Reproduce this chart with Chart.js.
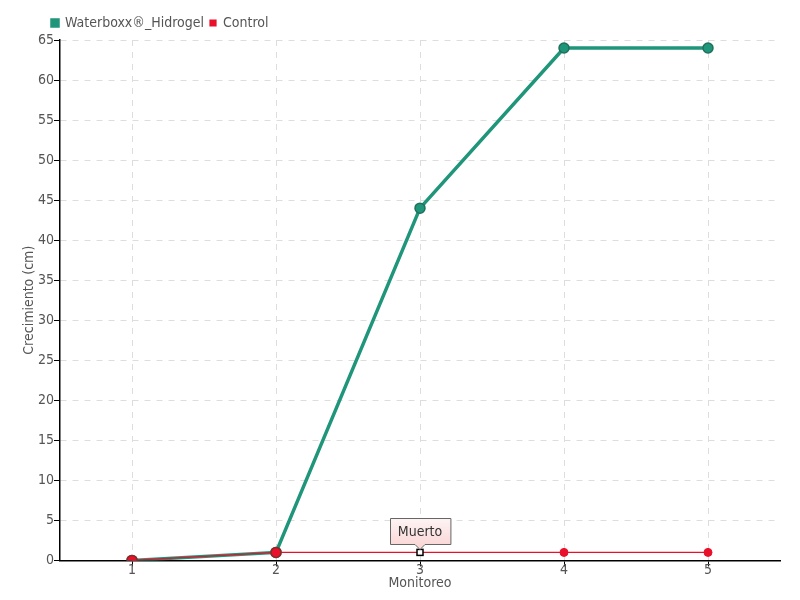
<!DOCTYPE html>
<html><head><meta charset="utf-8">
<script src="https://cdn.jsdelivr.net/npm/chart.js@4/dist/chart.umd.min.js"></script>
<style>html,body{margin:0;padding:0;background:#fff}#w{width:800px;height:600px}</style>
</head><body><div id="w"><canvas id="c" width="800" height="600"></canvas></div>
<script>
const categories = ['1','2','3','4','5'];
const waterboxx = [0, 1, 44, 64, 64];
const control = [0, 1, 1, 1, 1];
const seriesNames = ['Waterboxx®_Hidrogel', 'Control'];
const deadLabel = 'Muerto';
const deadIndex = 2;

const FONT = '"DejaVu Sans Condensed", "Liberation Sans Narrow", sans-serif';

const deadPlugin = {
  id: 'dead',
  afterLayout(chart) {
    const lg = chart.legend;
    if (lg) { lg.left += 46; lg.right += 46; }
  },
  afterDatasetsDraw(chart) {
    const ctx = chart.ctx;
    const meta = chart.getDatasetMeta(1);
    const pt = meta.data[deadIndex];
    const x = pt.x, y = pt.y;
    ctx.save();
    ctx.fillStyle = '#fff';
    ctx.strokeStyle = '#000';
    ctx.lineWidth = 1.5;
    ctx.fillRect(x - 3, y - 3, 6, 6);
    ctx.strokeRect(x - 3, y - 3, 6, 6);
    ctx.font = '14px ' + FONT;
    const tw = ctx.measureText(deadLabel).width;
    const w = tw + 16, h = 26;
    const bx = Math.round(x - w / 2) + 0.5, by = Math.round(y - 8 - h) + 0.5;
    const g = ctx.createLinearGradient(0, by, 0, by + h);
    g.addColorStop(0, '#fdf4f4');
    g.addColorStop(1, '#fbd8d8');
    ctx.beginPath();
    ctx.moveTo(bx, by);
    ctx.lineTo(bx + w, by);
    ctx.lineTo(bx + w, by + h);
    ctx.lineTo(x + 5, by + h);
    ctx.lineTo(x, by + h + 5);
    ctx.lineTo(x - 5, by + h);
    ctx.lineTo(bx, by + h);
    ctx.closePath();
    ctx.fillStyle = g;
    ctx.fill();
    ctx.strokeStyle = '#666';
    ctx.lineWidth = 1;
    ctx.stroke();
    ctx.fillStyle = '#333';
    ctx.textAlign = 'center';
    ctx.textBaseline = 'middle';
    ctx.fillText(deadLabel, x, by + h / 2 + 1);
    ctx.restore();
  }
};

new Chart(document.getElementById('c'), {
  type: 'line',
  data: {
    labels: categories,
    datasets: [
      {
        label: seriesNames[0], data: waterboxx,
        borderColor: '#1f957a', backgroundColor: '#1f957a',
        borderWidth: 3.5, pointRadius: 5, pointBorderColor: '#21705c', pointBorderWidth: 1.5,
        pointBackgroundColor: '#1f957a', tension: 0, order: 2
      },
      {
        label: seriesNames[1], data: control,
        borderColor: '#e8102a', backgroundColor: '#e8102a',
        borderWidth: 1.2,
        pointRadius: [5, 5, 0, 4, 4], pointBorderColor: ['#8a2a2a','#8a2a2a','#e8102a','#e8102a','#e8102a'],
        pointBorderWidth: [1.5,1.5,1,1,1],
        pointBackgroundColor: '#e8102a', tension: 0, order: 1
      }
    ]
  },
  options: {
    responsive: false, animation: false,
    layout: { padding: { left: 0, right: 20, top: 10, bottom: 8 } },
    plugins: {
      legend: {
        position: 'top', align: 'start',
        labels: {
          boxWidth: 6, boxHeight: 6, padding: 6, color: '#555', font: { family: FONT, size: 14 },
          sort: (a, b) => a.datasetIndex - b.datasetIndex
        }
      },
      tooltip: { enabled: false }
    },
    scales: {
      x: {
        type: 'category', offset: true,
        grid: { display: true, color: '#ddd', drawTicks: true, tickLength: 6, tickColor: '#000', offset: false },
        border: { display: true, color: '#000', width: 1.5, dash: [6, 6] },
        ticks: { color: '#555', font: { family: FONT, size: 14 }, padding: -4 },
        title: { display: true, text: 'Monitoreo', color: '#555', font: { family: FONT, size: 14 }, padding: 0 }
      },
      y: {
        min: 0, max: 65,
        afterFit: (s) => { s.width = 60; },
        grid: { color: '#ddd', tickLength: 6, tickColor: '#000' },
        border: { display: true, color: '#000', width: 1.5, dash: [6, 6] },
        ticks: { stepSize: 5, color: '#555', font: { family: FONT, size: 14 }, padding: 0 },
        title: { display: true, text: 'Crecimiento (cm)', color: '#555', font: { family: FONT, size: 14 }, padding: { top: 21, bottom: 0 } }
      }
    }
  },
  plugins: [deadPlugin]
});
</script></body></html>
